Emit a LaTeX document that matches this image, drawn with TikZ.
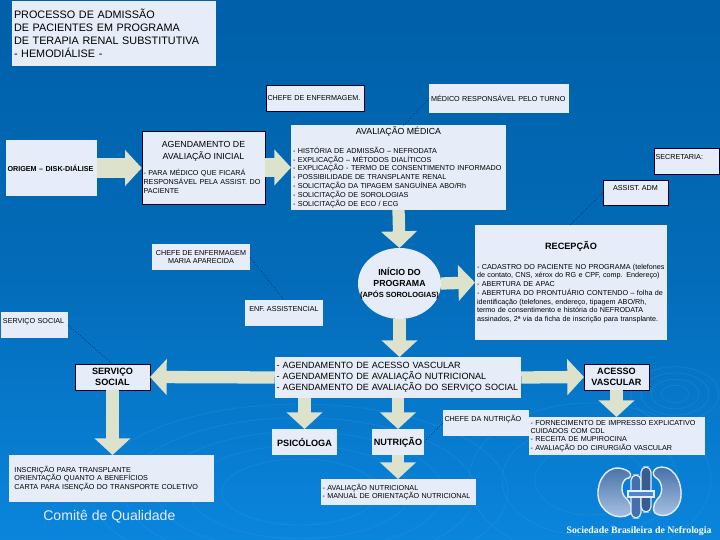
\documentclass[tikz,border=0pt]{standalone}
\usepackage{fontspec}
\setmainfont{Liberation Sans}
\newfontfamily\logofont{Liberation Serif}
\usetikzlibrary{
  arrows.meta,
  calc,
  positioning,
  shapes.geometric
}
\definecolor{bgtop}{HTML}{0060A9}
\definecolor{bgbottom}{HTML}{0A85DC}
\definecolor{boxfill}{HTML}{E6EDF8}
\definecolor{arrowfill}{HTML}{DCE2CC}
\definecolor{ripple}{HTML}{3A9BE4}
\definecolor{kidney}{HTML}{4F85CC}
\newcommand{\tinytext}{\fontsize{4.1}{4.75}\selectfont}
\newcommand{\midtext}{\fontsize{5.2}{6.6}\selectfont}
\newcommand{\bigtext}{\fontsize{6.16}{7.45}\selectfont}
\tikzset{
  box/.style={fill=boxfill,inner sep=1pt,outer sep=0pt,align=left,font=\tinytext},
  darkbox/.style={box,draw=black!85!blue,line width=0.25pt},
  headbox/.style={box,align=center,font=\midtext\bfseries},
  blockarrow/.style={draw=arrowfill,line width=7pt,
    -{Triangle[length=9.5pt,width=20pt,color=arrowfill]}},
  widearrow/.style={blockarrow,line width=11pt},
  leader/.style={densely dotted,line width=0.3pt,black!80!blue},
  ripplering/.style={ripple,line width=0.5pt,opacity=0.25}
}
\begin{document}
\begin{tikzpicture}[x=0.02cm,y=-0.02cm]
  % background and ripples
  \shade[top color=bgtop,bottom color=bgbottom,middle color=bgtop!70!bgbottom] (0,0) rectangle (720,540);
  \useasboundingbox (0,0) rectangle (720,540);
  \foreach \r in {14,24,34,44}
    \draw[ripplering] (675,394) ellipse ({\r*1} and {\r*0.62});
  \foreach \r in {60,85,110,135,160}
    \draw[ripplering] (300,492) ellipse ({\r*1.3} and {\r*0.55});
  \foreach \r in {50,80,110}
    \draw[ripplering] (590,480) ellipse ({\r*1.1} and {\r*0.7});

  % boxes
  \node[box,font=\bigtext,minimum width=202*0.02cm,minimum height=65*0.02cm,text width=200*0.02cm] (titulo) at (114,33.5)
    {PROCESSO DE ADMISSÃO\\DE PACIENTES EM PROGRAMA\\DE TERAPIA RENAL SUBSTITUTIVA\\- HEMODIÁLISE -\par\vspace{5.7pt}};
  \node[box,font=\tinytext\bfseries,minimum width=91*0.02cm,minimum height=56*0.02cm,text width=88*0.02cm] (origem) at (51.5,168)
    {ORIGEM – DISK-DIÁLISE};
  \node[darkbox,minimum width=123*0.02cm,minimum height=73*0.02cm,text width=120*0.02cm] (agenda) at (203.5,167.5)
    {\centering\fontsize{5}{6.8}\selectfont AGENDAMENTO DE\\AVALIAÇÃO INICIAL\par\vspace{4pt}
    \raggedright\tinytext\setlength{\baselineskip}{5.1pt} - PARA MÉDICO QUE FICARÁ\\RESPONSÁVEL PELA ASSIST. DO\\PACIENTE\par};
  \node[darkbox,minimum width=98*0.02cm,minimum height=26*0.02cm,text width=95*0.02cm] (chefeenf) at (315,98)
    {CHEFE DE ENFERMAGEM.};
  \node[box,minimum width=140*0.02cm,minimum height=29*0.02cm,text width=136*0.02cm] (medico) at (499,98.5)
    {MÉDICO RESPONSÁVEL PELO TURNO};
  \node[box,minimum width=215*0.02cm,minimum height=83*0.02cm,text width=211*0.02cm] (avaliacao) at (398.5,167.5)
    {\centering\fontsize{5}{6.3}\selectfont AVALIAÇÃO MÉDICA\par\vspace{5.5pt}
    \raggedright\tinytext\setlength{\baselineskip}{5.05pt}
    - HISTÓRIA DE ADMISSÃO – NEFRODATA\\- EXPLICAÇÃO – MÉTODOS DIALÍTICOS\\- EXPLICAÇÃO - TERMO DE CONSENTIMENTO INFORMADO\\- POSSIBILIDADE DE TRANSPLANTE RENAL\\- SOLICITAÇÃO DA TIPAGEM SANGUÍNEA ABO/Rh\\- SOLICITAÇÃO DE SOROLOGIAS\\- SOLICITAÇÃO DE ECO / ECG\par};
  \node[darkbox,minimum width=65*0.02cm,minimum height=26*0.02cm,text width=62*0.02cm,text depth=5pt] (secretaria) at (686.5,161)
    {SECRETARIA:};
  \node[darkbox,align=center,minimum width=65*0.02cm,minimum height=25*0.02cm,text depth=5pt] (assist) at (635.5,192.5)
    {ASSIST. ADM};
  \node[box,minimum width=192*0.02cm,minimum height=115*0.02cm,text width=188*0.02cm] (recepcao) at (571,282.5)
    {\centering\fontsize{5.2}{6.3}\selectfont\bfseries RECEPÇÃO\par\vspace{5.9pt}
    \raggedright\tinytext\mdseries\setlength{\baselineskip}{5pt}
    - CADASTRO DO PACIENTE NO PROGRAMA (telefones\\de contato, CNS, xérox do RG e CPF, comp. Endereço)\\- ABERTURA DE APAC\\- ABERTURA DO PRONTUÁRIO CONTENDO – folha de\\identificação (telefones, endereço, tipagem ABO/Rh,\\termo de consentimento e história do NEFRODATA\\assinados, 2ª via da ficha de inscrição para transplante.\par};
  \node[box,align=center,minimum width=98*0.02cm,minimum height=26*0.02cm] (chefemaria) at (201,257)
    {CHEFE DE ENFERMAGEM\\MARIA APARECIDA};
  \node[box,align=center,minimum width=78*0.02cm,minimum height=26*0.02cm,text depth=5pt] (enfassist) at (284,313)
    {ENF. ASSISTENCIAL};
  \node[ellipse,fill=boxfill,inner xsep=-6pt,inner ysep=-2pt,outer sep=0pt,minimum width=83*0.02cm,minimum height=71*0.02cm,align=center,font=\fontsize{5}{6.2}\selectfont\bfseries] (inicio) at (399.5,283.5)
    {INÍCIO DO\\PROGRAMA\\{\fontsize{4.25}{4.8}\selectfont (APÓS SOROLOGIAS)}};
  \node[box,minimum width=67*0.02cm,minimum height=26*0.02cm,text width=63*0.02cm,text depth=4pt] (socialpeq) at (34.5,325)
    {SERVIÇO SOCIAL};
  \node[darkbox,headbox,minimum width=75*0.02cm,minimum height=26*0.02cm] (social) at (112.5,377)
    {SERVIÇO\\SOCIAL};
  \node[box,font=\fontsize{5.15}{6.1}\selectfont,minimum width=246*0.02cm,minimum height=41*0.02cm,text width=243*0.02cm] (agendacentro) at (398,377.5)
    {- AGENDAMENTO DE ACESSO VASCULAR\\- AGENDAMENTO DE AVALIAÇÃO NUTRICIONAL\\- AGENDAMENTO DE AVALIAÇÃO DO SERVIÇO SOCIAL};
  \node[darkbox,headbox,minimum width=65*0.02cm,minimum height=26*0.02cm] (acesso) at (616.5,377)
    {ACESSO\\VASCULAR};
  \node[box,minimum width=86*0.02cm,minimum height=26*0.02cm,text width=83*0.02cm,text depth=5pt] (chefenutri) at (486,423)
    {CHEFE DA NUTRIÇÃO};
  \node[headbox,minimum width=65*0.02cm,minimum height=26*0.02cm] (psico) at (304.5,442)
    {PSICÓLOGA};
  \node[headbox,minimum width=52*0.02cm,minimum height=26*0.02cm] (nutricao) at (398,442)
    {NUTRIÇÃO};
  \node[box,minimum width=155*0.02cm,minimum height=26*0.02cm,text width=152*0.02cm] (avalnutri) at (398.5,492)
    {- AVALIAÇÃO NUTRICIONAL\\- MANUAL DE ORIENTAÇÃO NUTRICIONAL};
  \node[box,minimum width=176*0.02cm,minimum height=38*0.02cm,text width=173*0.02cm] (fornece) at (617,436)
    {- FORNECIMENTO DE IMPRESSO EXPLICATIVO\\CUIDADOS COM CDL\\- RECEITA DE MUPIROCINA\\- AVALIAÇÃO DO CIRURGIÃO VASCULAR};
  \node[box,minimum width=205*0.02cm,minimum height=47*0.02cm,text width=194*0.02cm] (inscricao) at (111.5,478.5)
    {INSCRIÇÃO PARA TRANSPLANTE\\ORIENTAÇÃO QUANTO A BENEFÍCIOS\\CARTA PARA ISENÇÃO DO TRANSPORTE COLETIVO};
  \node[text=boxfill,font=\fontsize{8}{9}\selectfont,anchor=west,inner sep=0pt] (comite) at (43,516.5)
    {Comitê de Qualidade};

  % block arrows
  \draw[widearrow] (origem.east) -- (origem.east -| agenda.west);
  \draw[widearrow] (agenda.east) -- (agenda.east -| avaliacao.west);
  \draw[blockarrow] (avaliacao.south) -- (inicio.north);
  \draw[blockarrow] (inicio.east) -- (recepcao.west);
  \draw[blockarrow] (inicio.south) -- (inicio.south |- agendacentro.north);
  \draw[blockarrow] (agendacentro.west) -- (social.east);
  \draw[blockarrow] (agendacentro.east) -- (acesso.west);
  \draw[blockarrow] (agendacentro.south -| psico.north) -- (psico.north);
  \draw[blockarrow] (agendacentro.south -| nutricao.north) -- (nutricao.north);
  \draw[blockarrow] (nutricao.south) -- (nutricao.south |- avalnutri.north);
  \draw[blockarrow] (acesso.south) -- (acesso.south |- fornece.north);
  \draw[blockarrow] (social.south) -- (social.south |- inscricao.north);

  % dotted leaders
  \coordinate (avaltopo) at (403,126);
  \coordinate (recepcaotopo) at (570,225);
  \draw[leader] (medico.west) -- (avaltopo);
  \draw[leader] (assist.west) -- (recepcaotopo);
  \draw[leader] (chefemaria.east) -- (enfassist.north);
  \draw[leader] (socialpeq.east) -- (social.north);
  \draw[leader] (chefenutri.west) -- (nutricao.east);

  % logo
  \draw[white!85!kidney,line width=0.8pt,top color=kidney!80!black,bottom color=kidney!45!white]
    (626,470) .. controls (608,462) and (597,480) .. (598,495)
    .. controls (599,512) and (618,522) .. (630,514)
    .. controls (634,508) and (629,500) .. (624,496)
    .. controls (620,490) and (622,478) .. (629,478)
    .. controls (632,476) and (631,472) .. (626,470) -- cycle;
  \draw[white!85!kidney,line width=0.8pt,top color=kidney!80!black,bottom color=kidney!45!white]
    (657,468) .. controls (672,463) and (682,480) .. (681,496)
    .. controls (680,512) and (665,520) .. (655,513)
    .. controls (651,507) and (656,500) .. (660,496)
    .. controls (664,488) and (660,479) .. (655,477)
    .. controls (652,474) and (653,470) .. (657,468) -- cycle;
  \draw[white!85!kidney,line width=0.7pt,fill=kidney!85!black,rounded corners=3pt]
    (631,475) rectangle (641,518);
  \draw[white!85!kidney,line width=0.7pt,fill=kidney!70!black,rounded corners=3pt]
    (641,467) rectangle (651,512);
  \draw[white!85!kidney,line width=0.7pt,fill=kidney] (628,491) rectangle (654,497);
  \node[text=white,font=\fontsize{5.6}{6}\selectfont\bfseries\logofont] (sociedade) at (639,531)
    {Sociedade Brasileira de Nefrologia};
\end{tikzpicture}
\end{document}
